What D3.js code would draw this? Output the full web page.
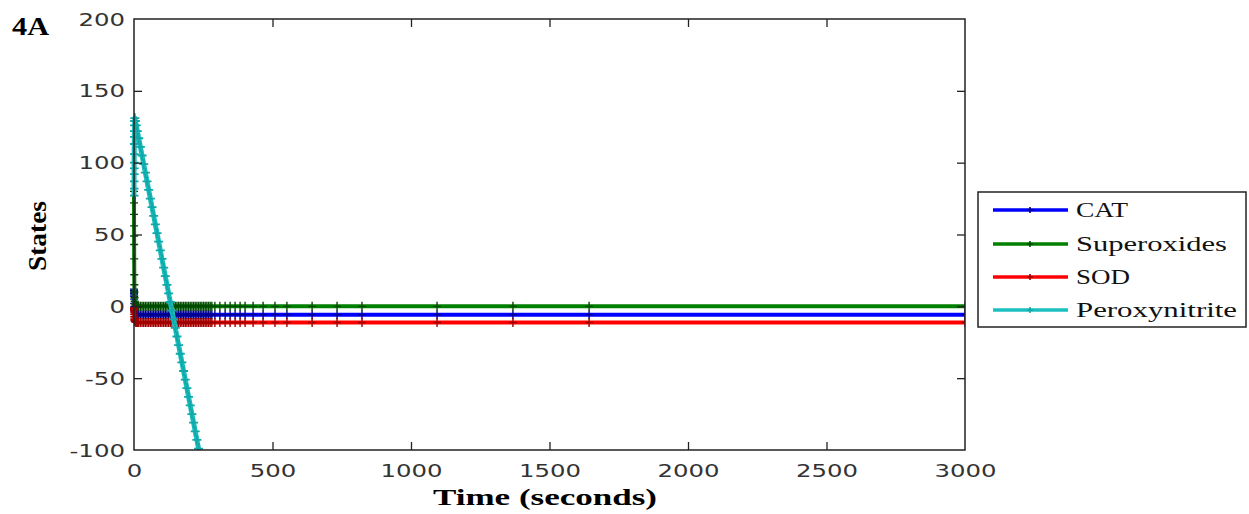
<!DOCTYPE html>
<html><head><meta charset="utf-8">
<script src="https://d3js.org/d3.v7.min.js"></script>
<style>body{margin:0;background:#fff}svg{display:block}</style>
</head><body>
<script>
const times = [0, 0.1, 0.2, 0.3, 0.4, 0.5, 0.7, 1, 1.3, 1.6, 2, 2.5, 3,
  5, 8, 12, 17, 23, 29, 35, 41, 47, 53, 59, 65, 71, 77, 83, 89, 95, 101, 107, 113, 119, 125, 131, 137, 143, 149, 155, 161, 167, 173, 179, 185, 191, 197, 203, 209, 215, 221, 227, 233, 239, 245, 251, 257, 263, 269, 275, 281, 292, 310, 329, 347, 365, 383, 401, 430, 466, 509, 552, 643, 733, 823, 1094, 1368, 1643, 3000];
const catValues = [12, 11, 10, 9, 8, 7, 5, 2, 0, -1.5, -2.5, -3.5, -4,
  -5, -5.5,
  -5.8, -5.8, -5.8, -5.8, -5.8, -5.8, -5.8, -5.8,
  -5.8, -5.8, -5.8, -5.8, -5.8, -5.8, -5.8, -5.8,
  -5.8, -5.8, -5.8, -5.8, -5.8, -5.8, -5.8, -5.8,
  -5.8, -5.8, -5.8, -5.8, -5.8, -5.8, -5.8, -5.8,
  -5.8, -5.8, -5.8, -5.8, -5.8, -5.8, -5.8, -5.8,
  -5.8, -5.8, -5.8, -5.8, -5.8, -5.8, -5.8, -5.8,
  -5.8, -5.8, -5.8, -5.8, -5.8, -5.8, -5.8, -5.8,
  -5.8, -5.8, -5.8, -5.8, -5.8, -5.8, -5.8, -5.8];
const superoxideValues = [80, 72, 64, 56, 49, 43, 33, 22, 15, 10, 6, 3.5, 2,
  1, 0.4, 0.1,
  0, 0, 0, 0, 0, 0, 0, 0,
  0, 0, 0, 0, 0, 0, 0, 0,
  0, 0, 0, 0, 0, 0, 0, 0,
  0, 0, 0, 0, 0, 0, 0, 0,
  0, 0, 0, 0, 0, 0, 0, 0,
  0, 0, 0, 0, 0, 0, 0, 0,
  0, 0, 0, 0, 0, 0, 0, 0,
  0, 0, 0, 0, 0, 0, 0];
const sodValues = [-1, -1.5, -2, -2.5, -3, -4, -5.5, -7, -8, -9, -9.5, -10, -10.5,
  -11, -11.2,
  -11.3, -11.3, -11.3, -11.3, -11.3, -11.3, -11.3, -11.3,
  -11.3, -11.3, -11.3, -11.3, -11.3, -11.3, -11.3, -11.3,
  -11.3, -11.3, -11.3, -11.3, -11.3, -11.3, -11.3, -11.3,
  -11.3, -11.3, -11.3, -11.3, -11.3, -11.3, -11.3, -11.3,
  -11.3, -11.3, -11.3, -11.3, -11.3, -11.3, -11.3, -11.3,
  -11.3, -11.3, -11.3, -11.3, -11.3, -11.3, -11.3, -11.3,
  -11.3, -11.3, -11.3, -11.3, -11.3, -11.3, -11.3, -11.3,
  -11.3, -11.3, -11.3, -11.3, -11.3, -11.3, -11.3, -11.3];
const peroxynitriteValues = [77, 82, 87, 92, 96, 100, 106, 113, 118, 122, 126, 129, 131,
  129, 126, 122, 117, 111, 105, 99, 93, 87, 81, 75, 69, 63, 57, 51, 45, 39, 33, 27, 21, 15, 9, 3, -3, -9, -15, -21, -27, -33, -39, -45, -51, -57, -63, -69, -75, -81, -87, -93, -99, -105, -111, -117, -123, -129, -135, -141, -147, -158, -176, -195, -213, -231, -249, -267, -296, -332, -375, -418, -509, -599, -689, -960, -1234, -1509, -2866];
const seriesNames = ["CAT", "Superoxides", "SOD", "Peroxynitrite"];
const seriesColors = ["#0000ff", "#008000", "#ff0000", "#1cbfbf"];
const markerColors = ["#00008c", "#004a00", "#a00000", "#10a8a8"];
const xTicks = [0, 500, 1000, 1500, 2000, 2500, 3000];
const yTicks = [-100, -50, 0, 50, 100, 150, 200];

const series = [catValues, superoxideValues, sodValues, peroxynitriteValues].map((vals, i) => ({
  name: seriesNames[i], color: seriesColors[i], mcolor: markerColors[i],
  pts: times.map((t, j) => ({t, v: vals[j]}))
}));

const W = 1249, H = 514;
const L = 134, R = 965, T = 19, B = 450;
const svg = d3.select("body").append("svg").attr("width", W).attr("height", H);
const x = d3.scaleLinear().domain([0, 3000]).range([L, R]);
const y = d3.scaleLinear().domain([-100, 200]).range([B, T]);

svg.append("clipPath").attr("id", "clip").append("rect")
  .attr("x", L - 4).attr("y", T).attr("width", R - L + 4).attr("height", B - T);

const plot = svg.append("g").attr("clip-path", "url(#clip)");
const line = d3.line().x(d => x(d.t)).y(d => y(d.v));
series.forEach((s, i) => {
  const g = plot.append("g");
  const cyan = i === 3;
  g.append("path").datum(s.pts).attr("d", line).attr("fill", "none")
    .attr("stroke", s.color).attr("stroke-width", cyan ? 5 : 4).attr("stroke-linejoin", "round");
  const a = cyan ? 4.5 : 4;
  g.selectAll("path.m").data(s.pts).join("path").attr("class", "m")
    .attr("d", d => `M${x(d.t)-a},${y(d.v)}h${2*a}M${x(d.t)},${y(d.v)-a-0.5}v${2*a+1}`)
    .attr("stroke", s.mcolor).attr("stroke-width", cyan ? 1.8 : 1.4).attr("fill", "none");
});

// axes box
const axisColor = "#222";
svg.append("rect").attr("x", L).attr("y", T).attr("width", R - L).attr("height", B - T)
  .attr("fill", "none").attr("stroke", axisColor).attr("stroke-width", 1.5);

const tickFont = "DejaVu Sans, sans-serif";
const charW = c => c === "-" ? 9 : 15.5;
const lenOf = s => s.split("").reduce((a, c) => a + charW(c), 0);

const xAxis = d3.axisBottom(x).tickValues(xTicks).tickSize(0).tickFormat(d3.format("d"));
const gx = svg.append("g").attr("transform", `translate(0,${B})`).call(xAxis);
gx.select(".domain").remove();
gx.selectAll(".tick text").attr("y", 27).attr("dy", 0)
  .attr("font-family", tickFont).attr("font-size", 17).attr("fill", "#333")
  .attr("textLength", d => lenOf(String(d))).attr("lengthAdjust", "spacingAndGlyphs");
gx.selectAll(".tick").each(function(d) {
  const g = d3.select(this);
  if (d > 0 && d < 3000) {
    g.append("line").attr("y1", 0).attr("y2", -8).attr("stroke", axisColor).attr("stroke-width", 1.3);
    g.append("line").attr("y1", T - B).attr("y2", T - B + 8).attr("stroke", axisColor).attr("stroke-width", 1.3);
  }
});

const yAxis = d3.axisLeft(y).tickValues(yTicks).tickSize(0).tickFormat(d3.format("d"));
const gy = svg.append("g").attr("transform", `translate(${L},0)`).call(yAxis);
gy.select(".domain").remove();
gy.selectAll(".tick text").attr("x", -9).attr("dy", "0.36em")
  .attr("font-family", tickFont).attr("font-size", 17).attr("fill", "#333")
  .text(d => String(d).replace("\u2212", "-"))
  .attr("textLength", d => lenOf(String(d))).attr("lengthAdjust", "spacingAndGlyphs");
gy.selectAll(".tick").each(function(d) {
  const g = d3.select(this);
  if (d > -100 && d < 200) {
    g.append("line").attr("x1", 0).attr("x2", 8).attr("stroke", axisColor).attr("stroke-width", 1.3);
    g.append("line").attr("x1", R - L).attr("x2", R - L - 8).attr("stroke", axisColor).attr("stroke-width", 1.3);
  }
});

const serif = "Liberation Serif, Times New Roman, serif";
svg.append("text").attr("x", 545).attr("y", 505).attr("text-anchor", "middle")
  .attr("font-family", serif).attr("font-weight", "bold").attr("font-size", 24)
  .attr("textLength", 224).attr("lengthAdjust", "spacingAndGlyphs").text("Time (seconds)");
svg.append("text").attr("transform", "translate(46,236) rotate(-90)").attr("text-anchor", "middle")
  .attr("font-family", serif).attr("font-weight", "bold").attr("font-size", 25)
  .attr("textLength", 70).attr("lengthAdjust", "spacingAndGlyphs").text("States");
svg.append("text").attr("x", 12).attr("y", 35)
  .attr("font-family", serif).attr("font-weight", "bold").attr("font-size", 26)
  .attr("textLength", 37).attr("lengthAdjust", "spacingAndGlyphs").text("4A");

// legend
const legendTextLen = [52, 151, 54, 161];
const legendY = [210, 244, 277, 310];
const lg = svg.append("g");
lg.append("rect").attr("x", 978).attr("y", 192).attr("width", 268).attr("height", 135)
  .attr("fill", "#fff").attr("stroke", axisColor).attr("stroke-width", 1.5);
series.forEach((s, i) => {
  const yy = legendY[i];
  lg.append("line").attr("x1", 993).attr("x2", 1068).attr("y1", yy).attr("y2", yy)
    .attr("stroke", s.color).attr("stroke-width", 3.5);
  lg.append("path").attr("d", `M1027,${yy}h6M1030,${yy-3}v6`)
    .attr("stroke", s.mcolor).attr("stroke-width", 1.6);
  lg.append("text").attr("x", 1076).attr("y", yy + 7)
    .attr("font-family", serif).attr("font-size", 21).attr("fill", "#111")
    .attr("textLength", legendTextLen[i]).attr("lengthAdjust", "spacingAndGlyphs").text(s.name);
});
</script>
</body></html>
